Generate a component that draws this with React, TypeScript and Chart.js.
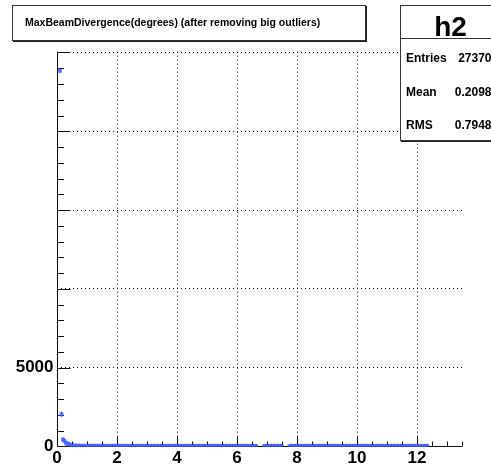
import React, { useEffect, useRef } from 'react';
import { Chart, registerables } from 'chart.js';

Chart.register(...registerables);

const TITLE = 'MaxBeamDivergence(degrees) (after removing big outliers)';
const HIST_NAME = 'h2';
const statLabels = ['Entries', 'Mean', 'RMS'];
const statValues = ['27370', '0.2098', '0.7948'];

const binStart = 0.1;
const binWidth = 0.05;
const counts: (number | null)[] = [
  23850, 2040, 430, 340, 210, 170, 130, 60, 45, 30, 25, 20, 15, 12, 10, 8, 7, 6, 5, 5,
  4, 5, 3, 4, 3, 4, 2, 3, 3, 2, 4, 2, 3, 2, 2, 3, 2, 1, 3, 2,
  2, 2, 1, 3, 2, 1, 2, 2, 1, 2, 1, 2, 2, 1, 1, 2, 1, 3, 1, 2,
  1, 2, 1, 1, 2, 1, 1, 2, 1, 1, 2, 1, 1, 1, 2, 1, 1, 2, 1, 1,
  1, 1, 2, 1, 1, 1, 2, 1, 1, 1, 1, 2, 1, 1, 1, 1, 1, 2, 1, 1,
  1, 1, 1, 2, 1, 1, 1, 1, 1, 1, 2, 1, 1, 1, 1, 1, 1, 1, 2, 1,
  1, 1, 1, 1, 1, 2, 1, 1, 1, 1, 1, 1, null, null, null, null, 1, 1, 1, 1,
  1, 1, 2, 1, 1, 1, 1, 1, 1, null, null, null, null, 1, 1, 1, 1, 1, 1, 1,
  1, 1, 1, 1, 2, 1, 1, 1, 1, 1, 1, 1, 1, 1, 1, 1, 1, 1, 1, 1,
  1, 1, 1, 1, 1, 1, 1, 1, 1, 2, 1, 1, 1, 1, 1, 1, 1, 1, 1, 1,
  1, 1, 1, 1, 1, 1, 1, 1, 1, 1, 1, 1, 1, 1, 1, 1, 1, 1, 1, 1,
  1, 1, 1, 1, 1, 1, 1, 1, 1, 1, 1, 1, 1, 1, 1, 1, 1, 1, 1, 1,
  1, 1, 1, 1, 1, 1,
];

const xMajorTicks = [0, 2, 4, 6, 8, 10, 12];
const xTickLabels = ['0', '2', '4', '6', '8', '10', '12'];
const yMajorTicks = [0, 5000, 10000, 15000, 20000, 25000];
const yTickLabels = ['0', '5000', '', '', '', ''];
const xMin = 0;
const xMax = 13.5;
const yMin = 0;
const yMax = 25050;
const xMinorStep = 0.5;
const xMajorEvery = 4;
const yMinorStep = 1000;
const yMajorEvery = 5;

const FONT = '"Liberation Sans", Arial, Helvetica, sans-serif';

const rootPlugin = {
  id: 'rootFrame',
  beforeDatasetsDraw(chart: any) {
    const { ctx, chartArea, scales } = chart;
    const xs = scales.x;
    const ys = scales.y;
    const L = Math.round(chartArea.left) + 0.5;
    const B = Math.round(chartArea.bottom) + 0.5;
    const R = chartArea.right;
    const T = chartArea.top;
    ctx.save();
    ctx.strokeStyle = '#111';
    ctx.lineWidth = 1;
    ctx.beginPath();
    ctx.moveTo(L, T);
    ctx.lineTo(L, B);
    ctx.lineTo(R, B);
    ctx.stroke();
    const nx = Math.round((xMax - xMin) / xMinorStep);
    ctx.beginPath();
    for (let i = 0; i <= nx; i++) {
      const v = xMin + i * xMinorStep;
      const px = Math.round(xs.getPixelForValue(v)) + 0.5;
      const len = i % xMajorEvery === 0 ? 10 : 5;
      ctx.moveTo(px, B);
      ctx.lineTo(px, B - len);
    }
    const ny = Math.floor((yMax - yMin) / yMinorStep);
    for (let i = 0; i <= ny; i++) {
      const v = yMin + i * yMinorStep;
      const py = Math.round(ys.getPixelForValue(v)) + 0.5;
      const len = i % yMajorEvery === 0 ? 13 : 6.5;
      ctx.moveTo(L, py);
      ctx.lineTo(L + len, py);
    }
    ctx.stroke();
    ctx.restore();
  },
  afterDraw(chart: any) {
    const { ctx } = chart;
    ctx.save();
    ctx.fillStyle = '#222';
    ctx.fillRect(13, 6, 354, 36);
    ctx.fillStyle = '#fff';
    ctx.fillRect(12, 5, 354, 36);
    ctx.strokeStyle = '#333';
    ctx.lineWidth = 1;
    ctx.strokeRect(12.5, 5.5, 353, 35);
    ctx.fillStyle = '#000';
    ctx.font = `bold 10.5px ${FONT}`;
    ctx.textAlign = 'left';
    ctx.textBaseline = 'middle';
    ctx.fillText(TITLE, 25, 23);

    const sx = 400;
    const sy = 5;
    const sw = 100;
    const sh = 136;
    ctx.fillStyle = '#222';
    ctx.fillRect(sx + 1, sy + 1, sw, sh);
    ctx.fillStyle = '#fff';
    ctx.fillRect(sx, sy, sw, sh);
    ctx.strokeStyle = '#333';
    ctx.strokeRect(sx + 0.5, sy + 0.5, sw - 1, sh - 1);
    ctx.beginPath();
    ctx.moveTo(sx, 38.5);
    ctx.lineTo(sx + sw, 38.5);
    ctx.stroke();
    ctx.fillStyle = '#000';
    ctx.font = `bold 28px ${FONT}`;
    ctx.textAlign = 'center';
    ctx.textBaseline = 'alphabetic';
    ctx.fillText(HIST_NAME, 450.5, 35.5);
    ctx.font = `bold 12px ${FONT}`;
    const rowBase = [62, 95.5, 129];
    statLabels.forEach((lab, i) => {
      ctx.textAlign = 'left';
      ctx.fillText(lab, 406, rowBase[i]);
      ctx.textAlign = 'right';
      ctx.fillText(statValues[i], 491.5, rowBase[i]);
    });
    ctx.restore();
  },
};

export default function App() {
  const ref = useRef<HTMLCanvasElement | null>(null);
  useEffect(() => {
    document.body.style.margin = '0';
    const canvas = ref.current;
    if (!canvas) return;
    const points: { x: number; y: number }[] = [];
    counts.forEach((c, i) => {
      if (c !== null) points.push({ x: binStart + i * binWidth, y: c });
    });
    const chart = new Chart(canvas, {
      type: 'scatter',
      data: {
        datasets: [
          {
            data: points,
            pointStyle: 'rect',
            pointRadius: 2.8,
            backgroundColor: 'rgba(70,100,255,0.75)',
            borderWidth: 0,
          },
          {
            data: points,
            pointStyle: 'line',
            rotation: 90,
            pointRadius: 2.5,
            borderColor: '#0010ee',
            borderWidth: 1,
          },
        ],
      },
      options: {
        animation: false,
        responsive: false,
        devicePixelRatio: 1,
        layout: { padding: { top: 51.7, right: 29, left: 0, bottom: 0 } },
        plugins: { legend: { display: false }, tooltip: { enabled: false }, title: { display: false } },
        scales: {
          x: {
            type: 'linear',
            min: xMin,
            max: xMax,
            afterBuildTicks: (s: any) => {
              s.ticks = xMajorTicks.map((v) => ({ value: v }));
            },
            afterFit: (s: any) => {
              s.height = 20.6;
            },
            ticks: {
              callback: (_v: any, i: number) => xTickLabels[i],
              font: { family: FONT, size: 17, weight: 'bold' },
              color: '#000',
              padding: 1.5,
              maxRotation: 0,
              autoSkip: false,
            },
            grid: {
              drawTicks: false,
              color: (c: any) => (c.tick && c.tick.value === 0 ? 'rgba(0,0,0,0)' : '#000'),
              lineWidth: 1,
            },
            border: { display: false, dash: [1, 3] },
          },
          y: {
            type: 'linear',
            min: yMin,
            max: yMax,
            afterBuildTicks: (s: any) => {
              s.ticks = yMajorTicks.map((v) => ({ value: v }));
            },
            afterFit: (s: any) => {
              s.width = 57;
            },
            ticks: {
              callback: (_v: any, i: number) => yTickLabels[i],
              font: { family: FONT, size: 17, weight: 'bold' },
              color: '#000',
              padding: 3.5,
              autoSkip: false,
            },
            grid: {
              drawTicks: false,
              color: (c: any) => (c.tick && c.tick.value === 0 ? 'rgba(0,0,0,0)' : '#000'),
              lineWidth: 1,
            },
            border: { display: false, dash: [1, 3] },
          },
        },
      },
      plugins: [rootPlugin],
    });
    return () => chart.destroy();
  }, []);
  return <canvas ref={ref} width={491} height={467} style={{ display: 'block', width: 491, height: 467 }} />;
}
